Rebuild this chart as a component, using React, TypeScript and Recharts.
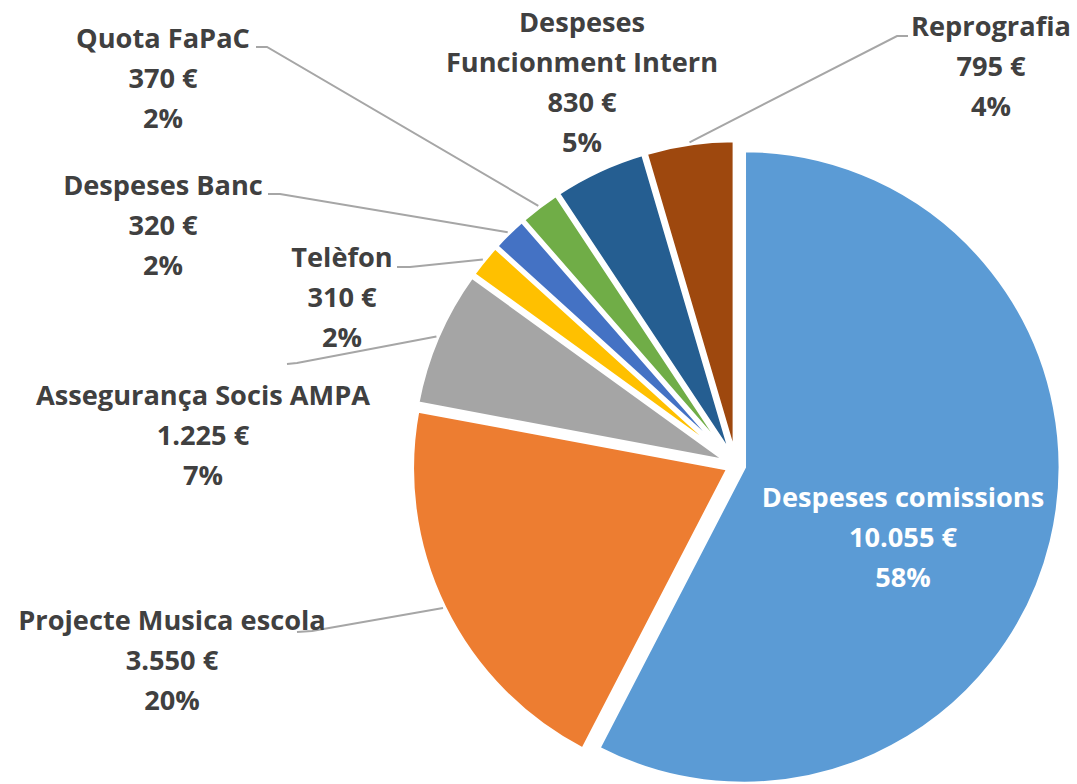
import React from 'react';
import { PieChart, Pie, Cell } from 'recharts';

// ---- data ----
const categories: string[] = [
  'Despeses comissions',
  'Projecte Musica escola',
  'Assegurança Socis AMPA',
  'Telèfon',
  'Despeses Banc',
  'Quota FaPaC',
  'Despeses Funcionment Intern',
  'Reprografia',
];
const amounts: number[] = [10055, 3550, 1225, 310, 320, 370, 830, 795];
const colors: string[] = ['#5B9BD5', '#ED7D31', '#A5A5A5', '#FFC000', '#4472C4', '#70AD47', '#255E91', '#9E480E'];

// ---- label layout (positions of the data labels, like Excel's dragged labels) ----
const labelCenterX: number[] = [903, 172, 203, 342, 163, 163, 582, 991];
const labelFirstBaseline: number[] = [507, 630, 405, 267, 195, 48, 32, 36];
const labelWordsOnFirstLine: number[] = [0, 0, 0, 0, 0, 0, 1, 0];
const leaderStart: (number[] | null)[] = [null, [297, 632], [287, 364], [397, 267], [268, 194], [256, 47], null, [908, 36]];
const leaderElbow: (number[] | null)[] = [null, [312, 631], [297, 363], [410, 267], [280, 194], [267, 47], null, [897, 36]];

const W = 1077;
const H = 784;
const CX = 736;
const CY = 465;
const R = 317;
const EXPLODE = 8;
const LINE_H = 40;
const FONT = "'Open Sans', 'Noto Sans', sans-serif";

const total = amounts.reduce((a, b) => a + b, 0);
const data = categories.map((name, i) => ({ name, value: amounts[i] }));

// whole-number percentages that add up to 100 (largest remainder)
const percents: number[] = (() => {
  const raw = amounts.map((v) => (v / total) * 100);
  const fl = raw.map((r) => Math.floor(r));
  let left = 100 - fl.reduce((a, b) => a + b, 0);
  const order = raw.map((r, i) => ({ i, rem: r - Math.floor(r) })).sort((a, b) => b.rem - a.rem);
  for (let k = 0; k < order.length && left > 0; k++, left--) fl[order[k].i] += 1;
  return fl;
})();

const offsets = (() => {
  let acc = 0;
  return amounts.map((v) => {
    const mid = (acc + v / 2) / total;
    acc += v;
    const th = mid * 2 * Math.PI;
    return { dx: EXPLODE * Math.sin(th), dy: -EXPLODE * Math.cos(th) };
  });
})();

const fmtNum = (n: number) => String(n).replace(/\B(?=(\d{3})+(?!\d))/g, '.');

const RAD = Math.PI / 180;

const makeLabel = (j: number) => (props: any) => {
  if (props.index !== j) return null;
  const { cx, cy, midAngle, outerRadius, value, name } = props;
  const words = String(name).split(' ');
  const nLines =
    labelWordsOnFirstLine[j] > 0
      ? [words.slice(0, labelWordsOnFirstLine[j]).join(' '), words.slice(labelWordsOnFirstLine[j]).join(' ')]
      : [String(name)];
  const lines = [...nLines, `${fmtNum(value)} €`, `${percents[j]}%`];
  const ex = cx + (outerRadius + 1) * Math.cos(-midAngle * RAD);
  const ey = cy + (outerRadius + 1) * Math.sin(-midAngle * RAD);
  const s = leaderStart[j];
  const e = leaderElbow[j];
  const textFill = j === 0 ? '#FFFFFF' : '#404040';
  return (
    <g key={`lbl-${j}`}>
      {s && e && (
        <polyline
          points={`${s[0]},${s[1]} ${e[0]},${e[1]} ${ex},${ey}`}
          fill="none"
          stroke="#A6A6A6"
          strokeWidth={2}
        />
      )}
      <text
        textAnchor="middle"
        fontFamily={FONT}
        fontWeight={700}
        fontSize={27.2}
        fill={textFill}
      >
        {lines.map((t, k) => (
          <tspan key={k} x={labelCenterX[j]} y={labelFirstBaseline[j] + k * LINE_H}>
            {t}
          </tspan>
        ))}
      </text>
    </g>
  );
};

export default function App() {
  return (
    <div style={{ position: 'absolute', left: 0, top: 0, width: W, height: H, background: '#fff' }}>
      <PieChart width={W} height={H} margin={{ top: 0, right: 0, bottom: 0, left: 0 }}>
        {categories.map((_, j) => (
          <Pie
            key={j}
            data={data}
            dataKey="value"
            nameKey="name"
            cx={CX + offsets[j].dx}
            cy={CY + offsets[j].dy}
            outerRadius={R}
            innerRadius={0}
            startAngle={90}
            endAngle={-270}
            isAnimationActive={false}
            label={makeLabel(j)}
            labelLine={false}
          >
            {data.map((d, i) => (
              <Cell
                key={i}
                fill={i === j ? colors[i] : 'none'}
                stroke={i === j ? '#FFFFFF' : 'none'}
                strokeWidth={i === j ? 4.5 : 0}
              />
            ))}
          </Pie>
        ))}
      </PieChart>
    </div>
  );
}
